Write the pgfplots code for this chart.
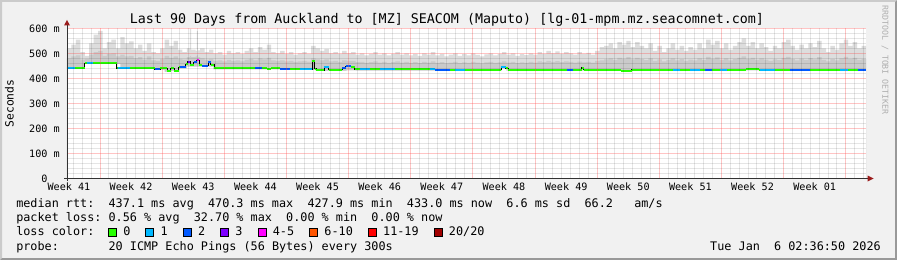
\documentclass[border=0pt]{standalone}
\usepackage{pgfplots}
\pgfplotsset{compat=1.18}
\usepackage{pgfplotstable}
\usepackage{fontspec}
\setmainfont{DejaVu Sans Mono}
\definecolor{bg}{HTML}{F1F1F1}
\definecolor{shadeA}{HTML}{CBCBCB}
\definecolor{shadeB}{HTML}{999999}
\definecolor{mgrid}{HTML}{FF4848}
\definecolor{mingrid}{HTML}{000000}
\definecolor{smokeA}{HTML}{DDDDDD}
\definecolor{smokeB}{HTML}{CACACA}
\definecolor{axiscol}{HTML}{333333}
\definecolor{arrowcol}{HTML}{9B1C1C}
\definecolor{wm}{HTML}{AFAFAF}
\definecolor{lc0}{HTML}{26FF00}
\definecolor{lc1}{HTML}{00B8FF}
\definecolor{lc2}{HTML}{0059FF}
\definecolor{lc3}{HTML}{7E00FF}
\definecolor{lc4}{HTML}{FF00FF}
\definecolor{lc6}{HTML}{FF5500}
\definecolor{lc11}{HTML}{FF0000}
\definecolor{lc20}{HTML}{A10000}

\pgfplotstableread{
x hi mid lo
0.0 520 480 437
0.5 535 488 437
1.0 555 492 437
1.5 505 475 437
2.0 490 478 457
2.5 540 495 457
3.0 575 505 457
3.5 590 510 457
4.0 520 490 457
4.5 545 498 457
5.0 555 500 457
5.5 520 488 457
6.0 565 495 437
6.5 540 488 437
7.0 548 490 437
7.5 520 480 437
8.0 535 485 437
8.5 510 475 437
9.0 540 488 437
9.5 505 472 437
10.0 500 470 434
10.5 520 478 434
11.0 555 490 426
11.5 530 482 430
12.0 550 488 428
12.5 515 478 440
13.0 505 475 440
13.5 520 485 447
13.85 598 490 447
13.97 515 485 447
14.5 510 488 447
14.62 590 492 447
14.74 512 485 447
15.0 520 480 447
15.5 505 475 447
16.0 515 478 447
16.5 500 470 436
17.0 505 472 436
17.5 495 468 436
18.0 510 474 436
18.5 500 470 436
19.0 505 472 436
19.5 498 468 436
20.0 510 475 436
20.5 520 478 436
21.0 505 472 436
21.5 525 480 436
22.0 515 476 436
22.5 535 482 434
23.0 505 472 436
23.5 500 470 436
24.0 510 472 433
24.5 498 468 433
25.0 505 470 433
25.5 495 466 433
26.0 500 468 433
26.5 505 470 433
27.0 498 467 433
27.5 530 480 433
28.0 520 476 429
28.5 510 472 429
29.0 518 476 430
29.5 500 468 429
30.0 505 470 429
30.5 498 466 429
31.0 510 472 430
31.5 500 470 432
32.0 505 470 432
32.5 495 465 431
33.0 500 466 431
33.5 492 462 431
34.0 498 465 431
34.5 505 468 431
35.0 495 463 431
35.5 500 466 431
36.0 492 462 431
36.5 498 465 431
37.0 505 468 431
37.5 495 463 431
38.0 500 466 431
38.5 492 462 431
39.0 498 465 431
39.5 490 461 431
40.0 500 466 431
40.5 495 463 431
41.0 505 468 431
41.5 492 462 431
42.0 498 465 431
42.5 488 460 431
43.0 495 463 431
43.5 500 466 431
44.0 490 461 431
44.5 497 464 431
45.0 492 462 431
45.5 500 466 431
46.0 494 463 431
46.5 488 460 431
47.0 496 464 431
47.5 500 466 431
48.0 492 462 431
48.5 497 464 431
49.0 505 468 440
49.5 495 463 431
50.0 500 466 431
50.5 490 461 431
51.0 497 464 431
51.5 493 462 431
52.0 500 466 431
52.5 495 463 431
53.0 505 468 431
53.5 498 465 431
54.0 510 470 431
54.5 500 466 431
55.0 508 469 431
55.5 498 465 431
56.0 505 468 431
56.5 500 466 431
57.0 495 463 431
57.5 505 467 431
58.0 498 464 431
58.5 502 466 431
59.0 495 463 431
59.5 510 470 431
60.0 525 472 431
60.5 530 476 431
61.0 540 480 431
61.5 520 474 431
62.0 545 482 431
62.5 535 478 427
63.0 550 485 427
63.5 525 476 431
64.0 545 482 431
64.5 530 477 431
65.0 520 473 431
65.5 540 480 431
66.0 510 470 431
66.5 530 476 431
67.0 505 468 431
67.5 520 474 431
68.0 540 480 431
68.5 515 472 431
69.0 530 477 431
69.5 510 470 431
70.0 525 475 431
70.5 515 472 431
71.0 540 480 431
71.5 520 474 431
72.0 555 486 431
72.5 535 478 431
73.0 550 484 431
73.5 520 474 431
74.0 540 480 431
74.5 515 472 431
75.0 530 477 431
75.5 545 482 431
76.0 560 488 431
76.5 530 477 432
77.0 545 482 432
77.5 520 474 432
78.0 540 480 431
78.5 525 475 431
79.0 510 470 431
79.5 530 476 431
80.0 520 473 431
80.5 545 482 431
81.0 555 486 431
81.5 530 477 431
82.0 515 472 431
82.5 535 479 431
83.0 520 474 431
83.5 540 481 431
84.0 525 476 431
84.5 550 485 431
85.0 520 474 431
85.5 505 468 431
86.0 530 477 431
86.5 515 472 431
87.0 540 480 431
87.5 555 486 431
88.0 530 477 431
88.5 545 482 431
89.0 520 474 431
89.5 530 477 431
90.0 525 476 431
}\smoke

\pgfplotstableread{
x y
0 441
2.0 461
5.6 441
9.9 437
10.5 440
11.3 428
11.7 440
12.1 431
12.6 445
13.4 456
13.6 466
13.9 452
14.3 464
14.6 473
14.9 452
15.2 450
15.9 467
16.2 455
16.6 441
20.5 443
21.5 441
22.5 438
23.0 440
24.0 437
27.6 470
27.9 438
28.1 432
29.0 447
29.5 434
31.0 440
31.4 448
32.0 444
32.4 436
40.5 437
41.5 435
48.9 446
49.4 440
49.7 435
58.0 442
58.2 435
62.4 430
63.6 435
76.5 437
78.0 434
90 434
}\median

\begin{document}
\frenchspacing
\begin{tikzpicture}
\begin{scope}[x=0.75pt,y=-0.75pt]
  \path[use as bounding box] (0,0) rectangle (897,260);
  \fill[bg] (0,0) rectangle (897,260);
  \fill[shadeA] (0,0) -- (897,0) -- (895,2) -- (2,2) -- (2,258) -- (0,260) -- cycle;
  \fill[shadeB] (897,0) -- (897,260) -- (0,260) -- (2,258) -- (895,258) -- (895,2) -- cycle;
\end{scope}
\begin{axis}[
  at={(50.25pt,-133.875pt)}, anchor=south west,
  scale only axis, width=599.25pt, height=112.5pt,
  xmin=0, xmax=90, ymin=0, ymax=600,
  axis background/.style={fill=white},
  axis line style={draw=none},
  axis on top,
  xtick={3.72,10.72,17.72,24.72,31.72,38.72,45.72,52.72,59.72,66.72,73.72,80.72,87.72},
  xticklabels={},
  minor xtick={0.72,1.72,2.72,4.72,5.72,6.72,7.72,8.72,9.72,11.72,12.72,13.72,14.72,15.72,16.72,18.72,19.72,20.72,21.72,22.72,23.72,25.72,26.72,27.72,28.72,29.72,30.72,32.72,33.72,34.72,35.72,36.72,37.72,39.72,40.72,41.72,42.72,43.72,44.72,46.72,47.72,48.72,49.72,50.72,51.72,53.72,54.72,55.72,56.72,57.72,58.72,60.72,61.72,62.72,63.72,64.72,65.72,67.72,68.72,69.72,70.72,71.72,72.72,74.72,75.72,76.72,77.72,78.72,79.72,81.72,82.72,83.72,84.72,85.72,86.72,88.72,89.72},
  extra x ticks={0.22,7.22,14.22,21.22,28.22,35.22,42.22,49.22,56.22,63.22,70.22,77.22,84.22},
  extra x tick labels={Week 41,Week 42,Week 43,Week 44,Week 45,Week 46,Week 47,Week 48,Week 49,Week 50,Week 51,Week 52,Week 01},
  extra x tick style={xmajorgrids=false, major tick length=0pt},
  ytick={0,100,200,300,400,500,600},
  yticklabels={0\phantom{~m},100~m,200~m,300~m,400~m,500~m,600~m},
  minor ytick={20,40,60,80,120,140,160,180,220,240,260,280,320,340,360,380,420,440,460,480,520,540,560,580},
  xmajorgrids=true, xminorgrids=true, ymajorgrids=true, yminorgrids=true,
  major grid style={draw=mgrid, draw opacity=0.32, line width=0.75pt},
  minor grid style={draw=mingrid, draw opacity=0.10, line width=0.75pt},
  major tick length=0pt, minor tick length=0pt,
  tick label style={font=\fontsize{7.6}{9}\selectfont, inner sep=0pt},
  xticklabel style={anchor=north, yshift=-3.4pt},
  yticklabel style={anchor=east, xshift=-5.25pt},
]
\addplot[fill=smokeA, draw=none, const plot] table[x=x,y=hi]{\smoke} \closedcycle;
\addplot[fill=smokeB, draw=none, const plot] table[x=x,y=mid]{\smoke} \closedcycle;
\addplot[fill=white, draw=none, const plot] table[x=x,y=lo]{\smoke} \closedcycle;
\addplot[black, line width=0.75pt, const plot] table[x=x,y=y]{\median};
\addplot[lc0, line width=1.5pt, jump mark left] table[x=x,y=y]{\median};
% loss-coloured stretches of the median
\addplot[lc1, line width=1.5pt] coordinates {(0,441)(0.9,441)};
\addplot[lc1, line width=1.5pt] coordinates {(2.25,461)(2.9,461)};
\addplot[lc1, line width=1.5pt] coordinates {(5.75,441)(7.1,441)};
\addplot[lc2, line width=1.5pt] coordinates {(9.9,437)(10.5,437)};
\addplot[lc2, line width=1.5pt] coordinates {(12.7,445)(13.4,445)};
\addplot[lc3, line width=1.5pt] coordinates {(13.6,466)(13.9,466)};
\addplot[lc2, line width=1.5pt] coordinates {(14.3,464)(14.6,464)};
\addplot[lc4, line width=1.5pt] coordinates {(14.6,473)(14.9,473)};
\addplot[lc2, line width=1.5pt] coordinates {(15.2,450)(15.9,450)};
\addplot[lc2, line width=1.5pt] coordinates {(15.9,467)(16.2,467)};
\addplot[lc2, line width=1.5pt] coordinates {(21.2,441)(22.0,441)};
\addplot[lc2, line width=1.5pt] coordinates {(24.0,437)(25.1,437)};
\addplot[lc1, line width=1.5pt] coordinates {(26.2,437)(27.6,437)};
\addplot[lc1, line width=1.5pt] coordinates {(29.0,447)(29.5,447)};
\addplot[lc2, line width=1.5pt] coordinates {(31.0,440)(31.4,440)};
\addplot[lc2, line width=1.5pt] coordinates {(31.4,448)(32.0,448)};
\addplot[lc1, line width=1.5pt] coordinates {(33.0,436)(34.1,436)};
\addplot[lc1, line width=1.5pt] coordinates {(35.3,436)(36.9,436)};
\addplot[lc1, line width=1.5pt] coordinates {(40.9,437)(41.5,437)};
\addplot[lc2, line width=1.5pt] coordinates {(41.5,435)(43.1,435)};
\addplot[lc1, line width=1.5pt] coordinates {(43.7,435)(44.8,435)};
\addplot[lc1, line width=1.5pt] coordinates {(48.9,446)(49.4,446)};
\addplot[lc2, line width=1.5pt] coordinates {(56.3,435)(57.0,435)};
\addplot[lc1, line width=1.5pt] coordinates {(68.3,435)(69.0,435)};
\addplot[lc1, line width=1.5pt] coordinates {(70.2,435)(71.3,435)};
\addplot[lc2, line width=1.5pt] coordinates {(71.9,435)(72.6,435)};
\addplot[lc1, line width=1.5pt] coordinates {(73.5,435)(74.3,435)};
\addplot[lc1, line width=1.5pt] coordinates {(78.1,434)(79.8,434)};
\addplot[lc2, line width=1.5pt] coordinates {(81.4,434)(83.7,434)};
\addplot[lc1, line width=1.5pt] coordinates {(87.1,434)(88.0,434)};
\addplot[lc2, line width=1.5pt] coordinates {(89.1,434)(90,434)};
\end{axis}
\begin{scope}[x=0.75pt,y=-0.75pt]
  % axes
  \draw[axiscol, line width=0.75pt] (67,181) -- (67,25);
  \fill[arrowcol] (64,25.5) -- (70,25.5) -- (67,20) -- cycle;
  \draw[axiscol, line width=0.75pt] (64,178.5) -- (868,178.5);
  \fill[arrowcol] (867.5,175.5) -- (867.5,181.5) -- (873.5,178.5) -- cycle;
  % title
  \node[anchor=base, inner sep=0pt, font=\fontsize{10}{12}\selectfont] at (447,23.3)
    {Last~90~Days~from~Auckland~to~[MZ]~SEACOM~(Maputo)~[lg-01-mpm.mz.seacomnet.com]};
  % y label
  \node[rotate=90, inner sep=0pt, font=\fontsize{8.5}{10}\selectfont] at (9.5,103.5) {Seconds};
  % watermark
  \node[rotate=-90, anchor=west, inner sep=0pt, text=wm, font=\fontsize{6.2}{7}\selectfont] at (885,5) {RRDTOOL~/~TOBI~OETIKER};
  % legend
  \begin{scope}[every node/.style={anchor=base west, inner sep=0pt, font=\fontsize{8.85}{10}\selectfont}]
    \node at (16,207.3) {median~rtt:~~437.1~ms~avg~~470.3~ms~max~~427.9~ms~min~~433.0~ms~now~~6.6~ms~sd~~66.2~~~am/s};
    \node at (16,221.5) {packet~loss:~0.56~\%~avg~~32.70~\%~max~~0.00~\%~min~~0.00~\%~now};
    \node at (16,235.7) {loss~color:};
    \node at (16,250) {probe:~~~~~~~20~ICMP~Echo~Pings~(56~Bytes)~every~300s};
    \node[anchor=base east] at (881,250) {Tue~Jan~~6~02:36:50~2026};
    \filldraw[fill=lc0, draw=black, line width=0.75pt] (108.5,228.5) rectangle (116.5,236);
    \node at (123,235.7) {0};
    \filldraw[fill=lc1, draw=black, line width=0.75pt] (145.9,228.5) rectangle (153.9,236);
    \node at (160.4,235.7) {1};
    \filldraw[fill=lc2, draw=black, line width=0.75pt] (183.3,228.5) rectangle (191.3,236);
    \node at (197.8,235.7) {2};
    \filldraw[fill=lc3, draw=black, line width=0.75pt] (220.7,228.5) rectangle (228.7,236);
    \node at (235.2,235.7) {3};
    \filldraw[fill=lc4, draw=black, line width=0.75pt] (258.1,228.5) rectangle (266.1,236);
    \node at (272.6,235.7) {4-5};
    \filldraw[fill=lc6, draw=black, line width=0.75pt] (309.7,228.5) rectangle (317.7,236);
    \node at (324.2,235.7) {6-10};
    \filldraw[fill=lc11, draw=black, line width=0.75pt] (368.4,228.5) rectangle (376.4,236);
    \node at (382.9,235.7) {11-19};
    \filldraw[fill=lc20, draw=black, line width=0.75pt] (434.2,228.5) rectangle (442.2,236);
    \node at (448.7,235.7) {20/20};
  \end{scope}
\end{scope}
\end{tikzpicture}
\end{document}
